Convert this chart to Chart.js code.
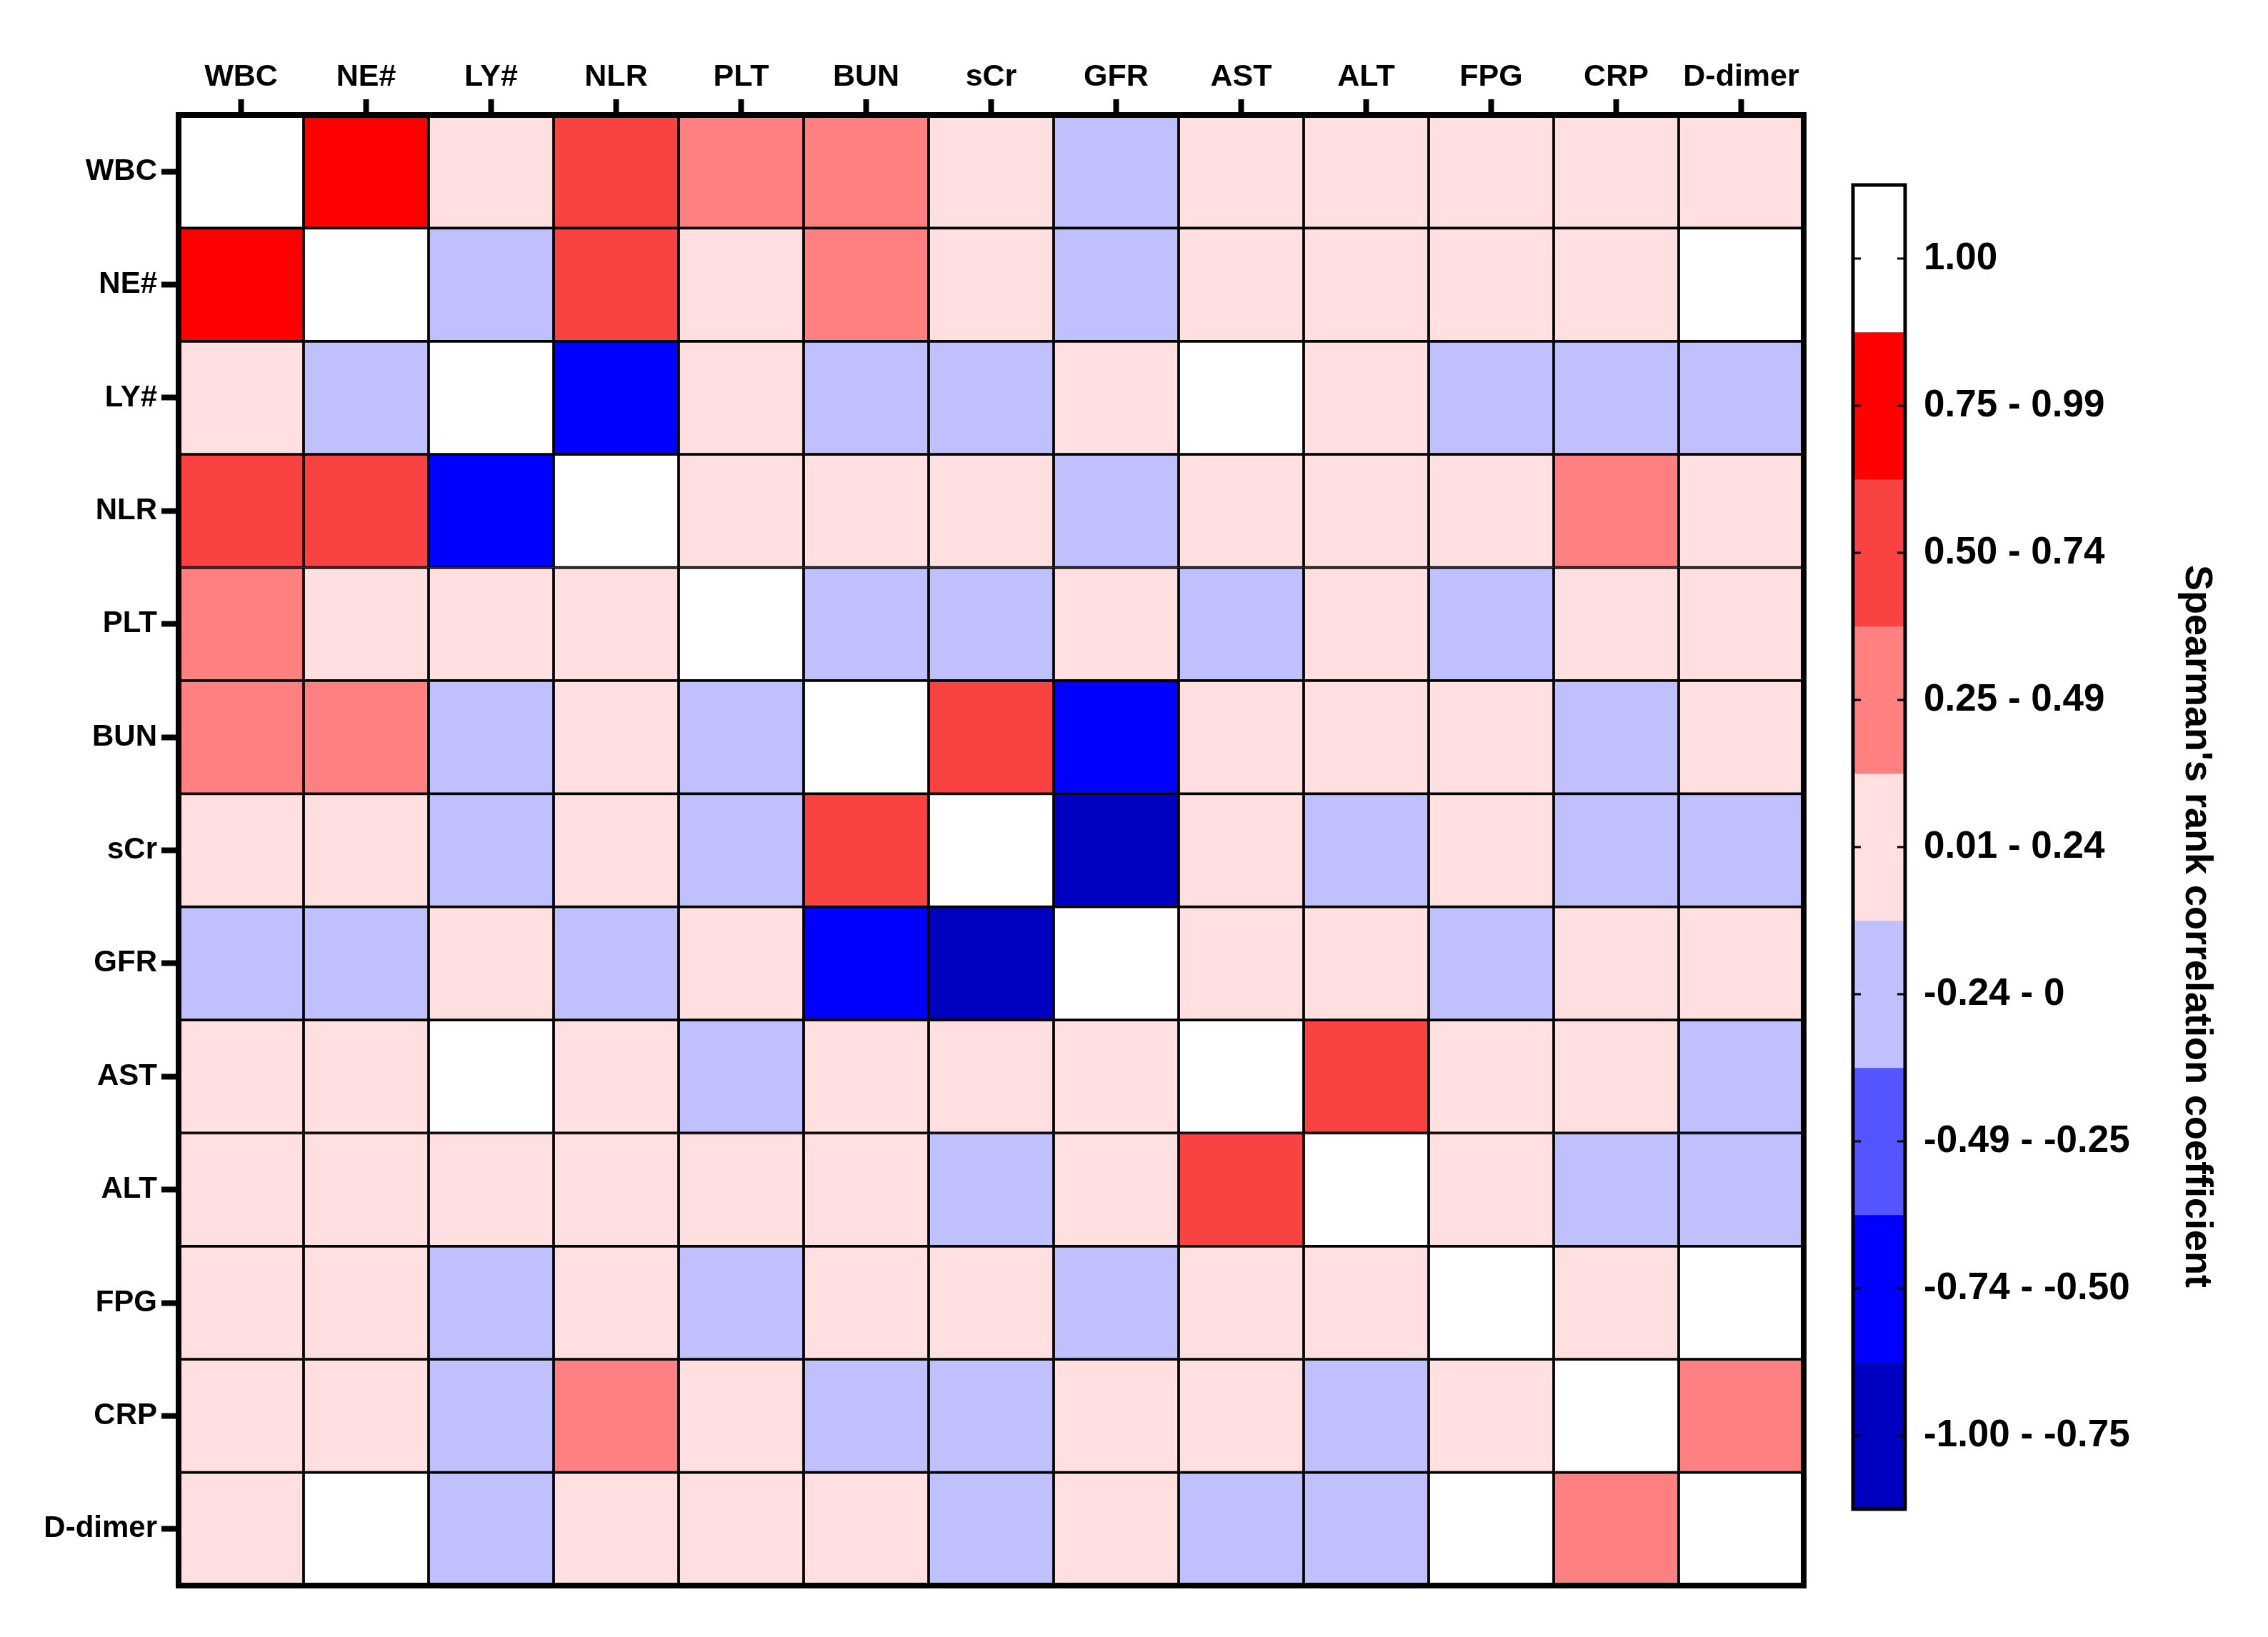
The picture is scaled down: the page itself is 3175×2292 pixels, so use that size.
<!DOCTYPE html>
<html>
<head>
<meta charset="utf-8">
<script src="https://cdn.jsdelivr.net/npm/chart.js@4.4.1/dist/chart.umd.min.js"></script>
<style>
  html, body { margin: 0; padding: 0; background: #fff; overflow: hidden; }
  #main { position: absolute; left: 0; top: 0; }
  #scale { position: absolute; left: 2560px; top: 0; }
</style>
</head>
<body>
<canvas id="main" width="3175" height="2292"></canvas>
<canvas id="scale" width="615" height="2292"></canvas>
<script>
// ---------------- data ----------------
const variables = ['WBC','NE#','LY#','NLR','PLT','BUN','sCr','GFR','AST','ALT','FPG','CRP','D-dimer'];

// Spearman's rank correlation coefficients (estimated from the colour bins; null = blank cell)
const rWBC    = [1.00, 0.85, 0.12, 0.60, 0.35, 0.35, 0.12,-0.12, 0.12, 0.12, 0.12, 0.12, 0.12];
const rNE     = [0.85, 1.00,-0.12, 0.60, 0.12, 0.35, 0.12,-0.12, 0.12, 0.12, 0.12, 0.12, null];
const rLY     = [0.12,-0.12, 1.00,-0.60, 0.12,-0.12,-0.12, 0.12, null, 0.12,-0.12,-0.12,-0.12];
const rNLR    = [0.60, 0.60,-0.60, 1.00, 0.12, 0.12, 0.12,-0.12, 0.12, 0.12, 0.12, 0.35, 0.12];
const rPLT    = [0.35, 0.12, 0.12, 0.12, 1.00,-0.12,-0.12, 0.12,-0.12, 0.12,-0.12, 0.12, 0.12];
const rBUN    = [0.35, 0.35,-0.12, 0.12,-0.12, 1.00, 0.60,-0.60, 0.12, 0.12, 0.12,-0.12, 0.12];
const rSCR    = [0.12, 0.12,-0.12, 0.12,-0.12, 0.60, 1.00,-0.85, 0.12,-0.12, 0.12,-0.12,-0.12];
const rGFR    = [-0.12,-0.12,0.12,-0.12, 0.12,-0.60,-0.85, 1.00, 0.12, 0.12,-0.12, 0.12, 0.12];
const rAST    = [0.12, 0.12, null, 0.12,-0.12, 0.12, 0.12, 0.12, 1.00, 0.60, 0.12, 0.12,-0.12];
const rALT    = [0.12, 0.12, 0.12, 0.12, 0.12, 0.12,-0.12, 0.12, 0.60, 1.00, 0.12,-0.12,-0.12];
const rFPG    = [0.12, 0.12,-0.12, 0.12,-0.12, 0.12, 0.12,-0.12, 0.12, 0.12, 1.00, 0.12, null];
const rCRP    = [0.12, 0.12,-0.12, 0.35, 0.12,-0.12,-0.12, 0.12, 0.12,-0.12, 0.12, 1.00, 0.35];
const rDDIMER = [0.12, null,-0.12, 0.12, 0.12, 0.12,-0.12, 0.12,-0.12,-0.12, null, 0.35, 1.00];
const matrix = [rWBC, rNE, rLY, rNLR, rPLT, rBUN, rSCR, rGFR, rAST, rALT, rFPG, rCRP, rDDIMER];

// colour scale bins (top to bottom)
const binLabels = ['1.00','0.75 - 0.99','0.50 - 0.74','0.25 - 0.49','0.01 - 0.24','-0.24 - 0','-0.49 - -0.25','-0.74 - -0.50','-1.00 - -0.75'];
const binLower  = [1.00, 0.75, 0.50, 0.25, 0.005, -0.245, -0.495, -0.745, -1.01];
const binColors = ['#ffffff','#ff0000','#f94242','#ff8080','#ffdfdf','#c0c0ff','#5555ff','#0000ff','#0000c0'];
const axisTitle = "Spearman's rank correlation coefficient";

// ---------------- helpers ----------------
const FONT = "'Liberation Sans', Arial, Helvetica, sans-serif";
function colorFor(v) {
  if (v === null || v === undefined) return '#ffffff';
  for (let k = 0; k < binLower.length; k++) {
    if (v >= binLower[k]) return binColors[k];
  }
  return binColors[binColors.length - 1];
}

Chart.defaults.animation = false;
Chart.defaults.font.family = FONT;
Chart.defaults.color = '#000';

// ---------------- heatmap ----------------
const frame = {
  id: 'frame',
  afterDatasetsDraw(chart, args, opts) {
    const a = chart.chartArea, ctx = chart.ctx;
    ctx.save();
    ctx.strokeStyle = '#000';
    ctx.lineWidth = opts.width;
    ctx.strokeRect(a.left, a.top, a.right - a.left, a.bottom - a.top);
    ctx.restore();
  }
};

new Chart(document.getElementById('main'), {
  type: 'bar',
  data: {
    labels: variables,
    datasets: variables.map((rowName, i) => ({
      label: rowName,
      data: variables.map(() => [i, i + 1]),
      backgroundColor: matrix[i].map(colorFor),
      borderColor: '#000',
      borderWidth: 2.2,
      borderSkipped: false,
      barPercentage: 1,
      categoryPercentage: 1,
      grouped: false
    }))
  },
  options: {
    responsive: false,
    devicePixelRatio: 1,
    layout: { padding: { left: 0, top: 0, right: 650, bottom: 72 } },
    plugins: { legend: { display: false }, tooltip: { enabled: false }, frame: { width: 8 } },
    scales: {
      x: {
        type: 'category',
        position: 'top',
        offset: true,
        border: { display: false },
        grid: { offset: false, drawOnChartArea: false, tickLength: 22, tickWidth: 8, tickColor: '#000' },
        ticks: { color: '#000', padding: 5, maxRotation: 0, autoSkip: false,
                 font: { size: 43, weight: 'bold', family: FONT } },
        afterFit(s) { s.height = 161; }
      },
      y: {
        type: 'linear',
        position: 'left',
        min: 0, max: variables.length,
        reverse: true,
        border: { display: false },
        grid: { drawOnChartArea: false, tickLength: 24, tickWidth: 8, tickColor: '#000' },
        afterBuildTicks(axis) { axis.ticks = variables.map((v, i) => ({ value: i + 0.5 })); },
        ticks: { color: '#000', padding: 6, autoSkip: false,
                 font: { size: 42, weight: 'bold', family: FONT },
                 callback: (value, index) => variables[index] },
        afterFit(s) { s.width = 250; }
      }
    }
  },
  plugins: [frame]
});

// ---------------- colour scale ----------------
const scaleDeco = {
  id: 'scaleDeco',
  afterDatasetsDraw(chart) {
    const a = chart.chartArea, ctx = chart.ctx, ys = chart.scales.y;
    ctx.save();
    ctx.strokeStyle = '#000';
    ctx.lineWidth = 3;
    binLabels.forEach((lab, k) => {
      const y = ys.getPixelForValue(k + 0.5);
      ctx.beginPath();
      ctx.moveTo(a.left, y); ctx.lineTo(a.left + 11, y);
      ctx.moveTo(a.right - 11, y); ctx.lineTo(a.right, y);
      ctx.stroke();
    });
    ctx.lineWidth = 5;
    ctx.strokeRect(a.left, a.top, a.right - a.left, a.bottom - a.top);
    // axis title, rotated to read top-to-bottom
    ctx.translate(a.right + 408, 1297);
    ctx.rotate(Math.PI / 2);
    ctx.fillStyle = '#000';
    ctx.font = 'bold 54px ' + FONT;
    ctx.textAlign = 'center';
    ctx.textBaseline = 'middle';
    ctx.fillText(axisTitle, 0, 0);
    ctx.restore();
  }
};

new Chart(document.getElementById('scale'), {
  type: 'bar',
  data: {
    labels: ['scale'],
    datasets: binLabels.map((lab, k) => ({
      label: lab,
      data: [[k, k + 1]],
      backgroundColor: binColors[k],
      borderWidth: 0,
      barPercentage: 1,
      categoryPercentage: 1,
      grouped: false
    }))
  },
  options: {
    responsive: false,
    devicePixelRatio: 1,
    layout: { padding: { left: 34, top: 259, right: 0, bottom: 179 } },
    plugins: { legend: { display: false }, tooltip: { enabled: false } },
    scales: {
      x: { type: 'category', display: false, offset: true },
      y: {
        type: 'linear',
        position: 'right',
        min: 0, max: binLabels.length,
        reverse: true,
        border: { display: false },
        grid: { drawOnChartArea: false, drawTicks: false },
        afterBuildTicks(axis) { axis.ticks = binLabels.map((l, k) => ({ value: k + 0.5 })); },
        ticks: { color: '#000', padding: 26, autoSkip: false,
                 font: { size: 53, weight: 'bold', family: FONT },
                 callback: (value, index) => binLabels[index] },
        afterFit(s) { s.width = 508; }
      }
    }
  },
  plugins: [scaleDeco]
});
</script>
</body>
</html>
